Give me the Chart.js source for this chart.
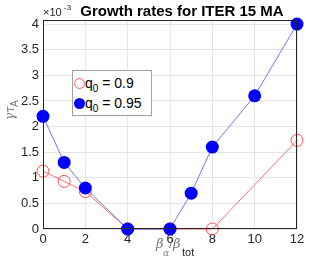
<!DOCTYPE html>
<html>
<head>
<meta charset="utf-8">
<script src="https://cdn.jsdelivr.net/npm/chart.js@4.4.1/dist/chart.umd.min.js"></script>
<style>
  html, body { margin: 0; padding: 0; background: #fff; }
  #wrap { position: relative; width: 329px; height: 259px; }
  .legend {
    position: absolute; left: 72px; top: 70px; width: 80px; height: 46px;
    border: 1px solid #a0a0a0; background: #fff; box-sizing: border-box;
    font-family: "Liberation Sans", Arial, sans-serif; font-size: 14px; color: #000;
  }
  .legend .row { position: absolute; left: 0; height: 20px; line-height: 20px; white-space: nowrap; }
  .legend .mk { display: inline-block; width: 11px; height: 11px; border-radius: 50%; box-sizing: border-box; vertical-align: middle; margin: 0 0 0 1px; position: relative; top: -1px; }
  .legend sub { font-size: 10px; }
</style>
</head>
<body>
<div id="wrap">
  <canvas id="chart" width="329" height="259"></canvas>
  <div class="legend">
    <div class="row" style="top:2px"><span class="mk" style="border:1px solid #ff6060"></span>q<sub>0</sub> = 0.9</div>
    <div class="row" style="top:22px"><span class="mk" style="background:#0000ff"></span>q<sub>0</sub> = 0.95</div>
  </div>
</div>
<script>
// growth rate gamma*tau_A (x 1e-3) against beta_alpha / beta_tot
const xRed = [0, 1, 2, 4, 6, 8, 12];
const yRed = [1.13, 0.93, 0.73, 0, 0, 0, 1.73];
const xBlue = [0, 1, 2, 4, 6, 7, 8, 10, 12];
const yBlue = [2.2, 1.3, 0.8, 0, 0, 0.7, 1.6, 2.6, 4.0];
const xTicks = [0, 2, 4, 6, 8, 10, 12];
const yTicks = [0, 0.5, 1, 1.5, 2, 2.5, 3, 3.5, 4];

const font = '"Liberation Sans", Arial, sans-serif';

const textPlugin = {
  id: 'texts',
  afterDraw(chart) {
    const ctx = chart.ctx;
    const a = chart.chartArea;
    ctx.save();
    ctx.fillStyle = '#000';
    // title
    ctx.font = 'bold 15px ' + font;
    ctx.textAlign = 'center';
    ctx.textBaseline = 'alphabetic';
    ctx.fillText('Growth rates for ITER 15 MA', 182, 16);
    // exponent
    ctx.fillStyle = '#262626';
    ctx.font = '11px ' + font;
    ctx.textAlign = 'left';
    ctx.fillText('\u00d710', 43, 16);
    ctx.font = '8px ' + font;
    ctx.fillText('-3', 64, 10);
    // x label
    ctx.fillStyle = '#777';
    ctx.font = 'italic 13px "DejaVu Serif", serif';
    ctx.fillText('\u03b2', 156, 248);
    ctx.font = 'italic 9px "DejaVu Serif", serif';
    ctx.fillText('\u03b1', 163, 256);
    ctx.font = '13px ' + font;
    ctx.fillText('/', 169, 248);
    ctx.font = 'italic 13px "DejaVu Serif", serif';
    ctx.fillText('\u03b2', 173, 248);
    ctx.fillStyle = '#262626';
    ctx.font = '11px ' + font;
    ctx.fillText('tot', 182, 256);
    // y label
    ctx.fillStyle = '#777';
    ctx.translate(14, 110);
    ctx.rotate(-Math.PI / 2);
    ctx.font = 'italic 12px "DejaVu Serif", serif';
    ctx.fillText('\u03b3\u03c4', -10, 0);
    ctx.font = '10px ' + font;
    ctx.fillText('A', 3, 4);
    ctx.restore();

    // axis box
    ctx.save();
    ctx.strokeStyle = '#262626';
    ctx.lineWidth = 1;
    ctx.strokeRect(a.left + 0.5, a.top + 0.5, a.right - a.left - 1, a.bottom - a.top - 1);
    ctx.restore();
  }
};

new Chart(document.getElementById('chart'), {
  type: 'scatter',
  data: {
    datasets: [
      {
        label: 'q0 = 0.9',
        data: xRed.map((x, i) => ({ x: x, y: yRed[i] })),
        showLine: true,
        borderColor: '#ff5050',
        borderWidth: 0.8,
        pointRadius: 6,
        pointBackgroundColor: 'rgba(0,0,0,0)',
        pointBorderColor: '#ff5050',
        pointBorderWidth: 1,
        clip: false,
        order: 2
      },
      {
        label: 'q0 = 0.95',
        data: xBlue.map((x, i) => ({ x: x, y: yBlue[i] })),
        showLine: true,
        borderColor: '#5050ff',
        borderWidth: 0.8,
        pointRadius: 6.5,
        pointBackgroundColor: '#0000ff',
        pointBorderColor: '#0000ff',
        pointBorderWidth: 0,
        clip: false,
        order: 1
      }
    ]
  },
  plugins: [textPlugin],
  options: {
    responsive: false,
    animation: false,
    layout: { padding: { left: 0, right: 32, top: 20, bottom: 0 } },
    plugins: { legend: { display: false }, tooltip: { enabled: false } },
    scales: {
      x: {
        type: 'linear', min: 0, max: 12,
        afterFit(s) { s.height = 30; },
        afterBuildTicks(s) { s.ticks = xTicks.map(v => ({ value: v })); },
        grid: { color: '#e6e6e6', drawTicks: false },
        border: { display: false },
        ticks: { color: '#262626', font: { family: font, size: 13 }, padding: 3, maxRotation: 0 }
      },
      y: {
        type: 'linear', min: 0, max: 4.08,
        afterFit(s) { s.width = 43; },
        afterBuildTicks(s) { s.ticks = yTicks.map(v => ({ value: v })); },
        grid: { color: '#e6e6e6', drawTicks: false },
        border: { display: false },
        ticks: {
          color: '#262626', font: { family: font, size: 13 }, padding: 4,
          callback: (v) => String(v)
        }
      }
    }
  }
});
</script>
</body>
</html>
